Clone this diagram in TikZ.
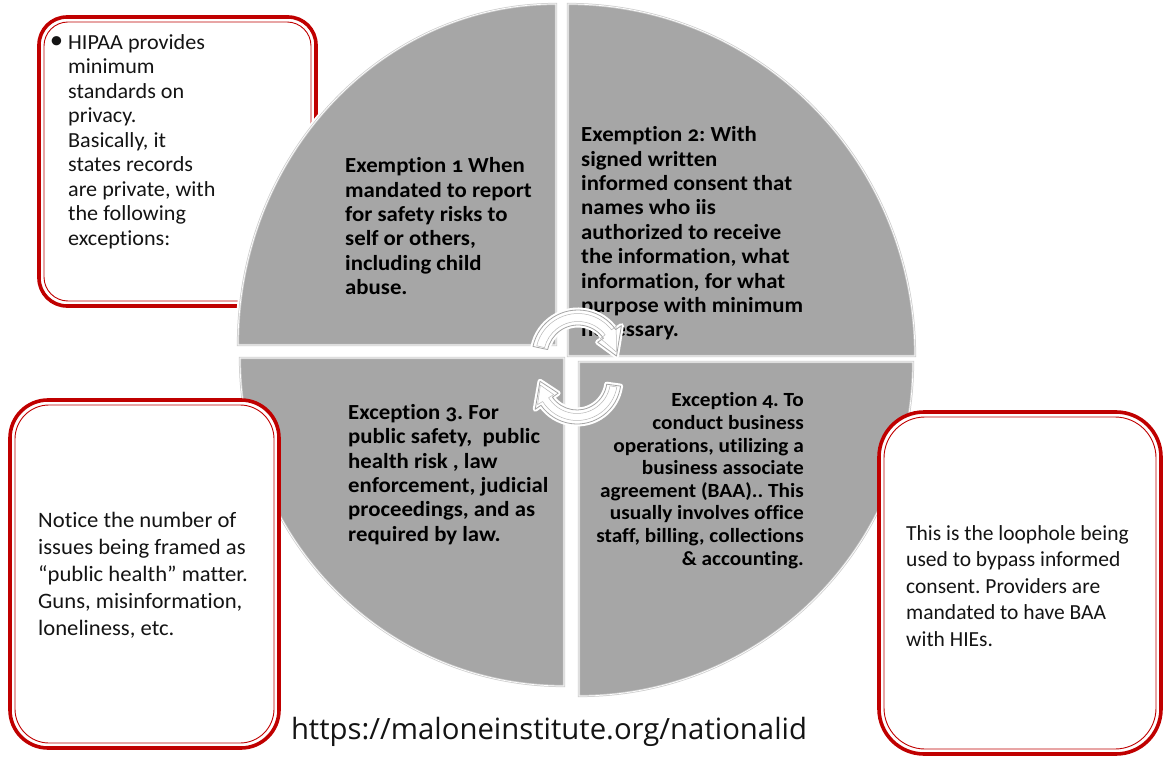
\documentclass[tikz,border=0pt]{standalone}
\usepackage{fontspec}
\setmainfont[Ligatures=NoCommon]{Carlito}
\newfontfamily\qfont[Numbers=OldStyle,Ligatures=NoCommon,FakeStretch=1.06]{Carlito}
\newfontfamily\bfontw[Ligatures=NoCommon,FakeStretch=1.03]{Carlito}
\newfontfamily\urlfont{Open Sans}
\definecolor{boxred}{RGB}{192,0,0}
\definecolor{qgray}{RGB}{166,166,166}
\definecolor{qedge}{RGB}{205,205,205}
\definecolor{arredge}{RGB}{165,165,165}
\frenchspacing
\begin{document}
\frenchspacing
\begin{tikzpicture}[x=1pt,y=1pt,
  redouter/.style={draw=boxred,line width=3.6pt,rounded corners=#1},
  redinner/.style={draw=boxred,line width=0.9pt,rounded corners=#1},
  qtext/.style={font=\qfont\bfseries\fontsize{21.5}{24.4}\selectfont,align=left,inner sep=0pt,text=black},
  btext/.style={font=\bfontw\fontsize{21.5}{24.5}\selectfont,align=left,inner sep=0pt,text=black!92},
  halo/.style={draw=white,line width=6pt},
  quadfill/.style={fill=qgray,draw=qedge,line width=2.2pt},
  quadline/.style={draw=white,line width=0.7pt},
  arrowbody/.style={fill=white,draw=arredge,line width=0.8pt,line join=round},
  arrowline/.style={draw=arredge!80,line width=0.5pt,line join=round},
  arrowhalo/.style={draw=white,line width=5pt,line join=round}]
\useasboundingbox (0,0) rectangle (1164,-759);
\fill[white] (0,0) rectangle (1164,-759);

% box 1 (behind the pie)
\draw[redouter=28pt] (39,-17) rectangle (316,-306);
\draw[redinner=24pt] (44,-22) rectangle (311,-301);

% quadrants
\path[save path=\pQa] (556,-345) -- (238,-345) arc[start angle=180,end angle=90,x radius=318,y radius=341] -- cycle;
\path[save path=\pQb] (568,-356) -- (568,-4) arc[start angle=90,end angle=0,x radius=347,y radius=352] -- cycle;
\path[save path=\pQc] (564,-358) -- (240,-358) arc[start angle=180,end angle=270,x radius=324,y radius=328] -- cycle;
\path[save path=\pQd] (579,-362) -- (913,-362) arc[start angle=0,end angle=-90,x radius=334,y radius=334] -- cycle;
\foreach \p in {\pQa,\pQb,\pQc,\pQd}{\path[use path=\p,halo];}
\foreach \p in {\pQa,\pQb,\pQc,\pQd}{\path[use path=\p,quadfill];\path[use path=\p,quadline];}

% boxes 2 and 3 (in front of the pie)
\draw[redouter=38pt,fill=white] (10,-400) rectangle (279,-748);
\draw[redinner=34pt] (15,-405) rectangle (274,-743);
\draw[redouter=45pt,fill=white] (879,-412) rectangle (1161,-754);
\draw[redinner=41pt] (884,-417) rectangle (1156,-749);

% quadrant texts
\node[qtext,anchor=north west] (ex1) at (345,-157.5) {Exemption 1 When\\mandated to report\\for safety risks to\\self or others,\\including child\\abuse.};
\node[qtext,anchor=north west] (ex2) at (581,-126.5) {Exemption 2: With\\signed written\\informed consent that\\names who iis\\authorized to receive\\the information, what\\information, for what\\purpose with minimum\\necessary.};
\node[qtext,anchor=north west] (ex3) at (348,-404) {Exception 3. For\\public safety,\ \ public\\health risk , law\\enforcement, judicial\\proceedings, and as\\required by law.};
\node[qtext,anchor=north east,align=right,font=\qfont\bfseries\fontsize{20.1}{22.6}\selectfont] (ex4) at (804,-392.5) {Exception 4. To\\conduct business\\operations, utilizing a\\business associate\\agreement (BAA).. This\\usually involves office\\staff, billing, collections\\\& accounting.};

% cycle arrows
\path[save path=\pAa] ([shift={(578,-356)}]168:46) arc[start angle=168,end angle=35,radius=46] -- ([shift={(578,-356)}]35:53) -- ([shift={(578,-356)}]0:38.5) -- ([shift={(578,-356)}]35:24) -- ([shift={(578,-356)}]35:31) arc[start angle=35,end angle=168,radius=31] -- cycle;
\path[save path=\pAb] ([shift={(578,-356)}]166:42.5) arc[start angle=166,end angle=38,radius=42.5] -- ([shift={(578,-356)}]38:48.5) -- ([shift={(578,-356)}]6:38.5) -- ([shift={(578,-356)}]38:28.5) -- ([shift={(578,-356)}]38:34.5) arc[start angle=38,end angle=166,radius=34.5] -- cycle;
\path[save path=\pAc] ([shift={(577,-380)}]-8:44) arc[start angle=-8,end angle=-145,radius=44] -- ([shift={(577,-380)}]-145:51) -- ([shift={(577,-380)}]-178:37) -- ([shift={(577,-380)}]-145:23) -- ([shift={(577,-380)}]-145:30) arc[start angle=-145,end angle=-8,radius=30] -- cycle;
\path[save path=\pAd] ([shift={(577,-380)}]-10:40.5) arc[start angle=-10,end angle=-148,radius=40.5] -- ([shift={(577,-380)}]-148:46.5) -- ([shift={(577,-380)}]-172:37) -- ([shift={(577,-380)}]-148:27.5) -- ([shift={(577,-380)}]-148:33.5) arc[start angle=-148,end angle=-10,radius=33.5] -- cycle;
\path[use path=\pAa,arrowhalo];
\path[use path=\pAc,arrowhalo];
\path[use path=\pAa,arrowbody];
\path[use path=\pAc,arrowbody];
\path[use path=\pAb,arrowline];
\path[use path=\pAd,arrowline];

% box texts
\node[btext,anchor=north west] (hipaa) at (68,-34) {\llap{\raisebox{0.5pt}{\fontsize{26}{26}\selectfont •}\hspace{5pt}}HIPAA provides\\minimum\\standards on\\privacy.\\Basically, it\\states records\\are private, with\\the following\\exceptions:};
\node[btext,anchor=north west,font=\bfontw\fontsize{22}{27}\selectfont] (notice) at (38,-512) {Notice the number of\\issues being framed as\\“public health” matter.\\Guns, misinformation,\\loneliness, etc.};
\node[btext,anchor=north west,font=\fontsize{21.5}{26.5}\selectfont] (loop) at (906,-525) {This is the loophole being\\used to bypass informed\\consent. Providers are\\mandated to have BAA\\with HIEs.};

% url
\node[inner sep=0pt,anchor=base,font=\urlfont\fontsize{29.3}{34}\selectfont,text=black!92] (url) at (549,-739) {https://maloneinstitute.org/nationalid};
\end{tikzpicture}
\end{document}
